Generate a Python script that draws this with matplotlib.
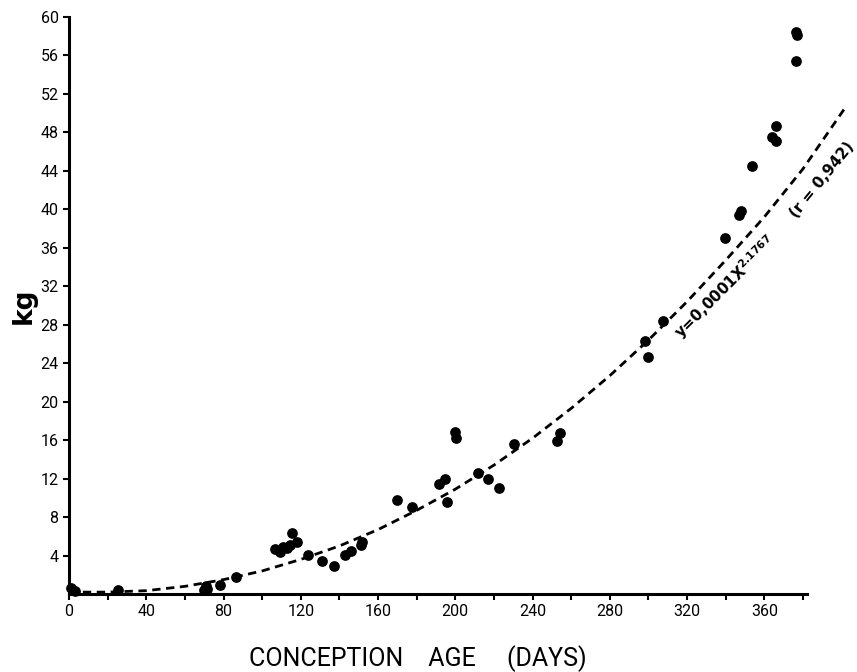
# Gewicht ueber Konzeptionsalter mit Potenz-Anpassung
import numpy as np
import matplotlib
matplotlib.use("Agg")
import matplotlib.pyplot as plt

plt.rcParams['font.family'] = ['Roboto', 'DejaVu Sans']

# Messpunkte (Tage, kg)
age_days = [1, 3, 25.5, 70, 70.8, 71.3, 78, 86.5,
            106.7, 109.3, 110.7, 112.8, 114.5, 115.4, 118.3, 123.5,
            130.9, 137.3, 143, 146, 151, 151.6,
            169.8, 177.5, 191.3, 194.8, 195.6, 199.9, 200.4,
            211.5, 216.7, 222.4, 230.6, 252.7, 254.4,
            298.4, 299.6, 307.6, 339.5, 346.8, 348, 353.4,
            363.7, 365.8, 365.8, 376.2, 376.7, 376.2]
weight_kg = [0.6, 0.3, 0.4, 0.4, 0.8, 0.5, 0.95, 1.8,
             4.65, 4.4, 4.9, 4.75, 5.1, 6.3, 5.45, 4.05,
             3.4, 2.9, 4.05, 4.5, 5.1, 5.45,
             9.8, 9.0, 11.4, 11.95, 9.6, 16.8, 16.2,
             12.6, 11.95, 11.0, 15.6, 15.9, 16.7,
             26.3, 24.6, 28.4, 37.0, 39.4, 39.8, 44.5,
             47.5, 47.1, 48.6, 58.4, 58.1, 55.45]

# Kurve
curve_x = [0, 20, 40, 60, 80, 100, 120, 140, 160, 180, 200,
           220, 240, 260, 280, 300, 320, 340, 360, 380, 402]
curve_y = [0.2, 0.2, 0.35, 0.8, 1.5, 2.4, 3.6, 5.0, 6.7, 8.7, 10.9,
           13.4, 16.2, 19.3, 22.7, 26.4, 30.4, 34.7, 39.2, 44.2, 50.6]

x_ticks = [0, 40, 80, 120, 160, 200, 240, 280, 320, 360]
y_ticks = [4, 8, 12, 16, 20, 24, 28, 32, 36, 40, 44, 48, 52, 56, 60]

fig = plt.figure(figsize=(8.57, 6.72), dpi=100)
ax = fig.add_axes([0.0805, 0.116, 0.861, 0.859])

ax.plot(curve_x, curve_y, color='black', lw=2, linestyle=(0, (3, 2)),
        clip_on=False)
ax.scatter(age_days, weight_kg, s=45, color='black', zorder=3, clip_on=False)

ax.set_xlim(0, 382)
ax.set_ylim(0, 60)

ax.spines['top'].set_visible(False)
ax.spines['right'].set_visible(False)
ax.spines['left'].set_linewidth(2.2)
ax.spines['bottom'].set_linewidth(2.2)

ax.set_xticks(x_ticks)
ax.set_xticks(np.arange(20, 381, 40), minor=True)
ax.set_yticks(y_ticks)
ax.tick_params(axis='both', labelsize=11.5, width=1.5, length=4, direction='out')
ax.tick_params(axis='x', which='minor', width=1.5, length=4)

ax.set_ylabel('kg', fontsize=19, fontweight='bold', family='DejaVu Sans')
ax.yaxis.set_label_coords(-0.044, 0.5)

# Achsentitel unten
fig.text(0.488, 0.0, 'CONCEPTION    AGE     (DAYS)', fontsize=18,
         ha='center', va='bottom')

ax.text(340, 31.9, r'y=0,0001X$^{\mathbf{2.1767}}$', rotation=45, fontsize=11,
        fontweight='bold', ha='center', va='center', family='DejaVu Sans')
ax.text(390, 43.1, '(r = 0,942)', rotation=51, fontsize=11,
        fontweight='bold', ha='center', va='center', family='DejaVu Sans',
        clip_on=False)

fig.savefig('out.png', dpi=100)
